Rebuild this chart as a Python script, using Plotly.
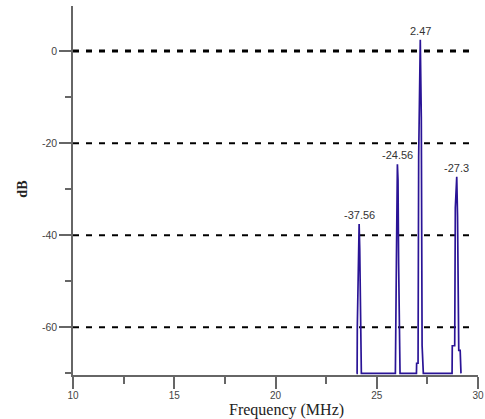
import plotly.graph_objects as go

# Spectrum samples (frequency in MHz, level in dB)
freq_mhz = [24.00, 24.03, 24.04, 24.09, 24.13, 24.16, 24.19, 24.22, 24.24,
            25.92, 25.93, 25.97, 26.02, 26.05, 26.08, 26.11, 26.15,
            26.96, 26.97, 27.04, 27.07, 27.15, 27.20, 27.24, 27.30,
            28.72, 28.73, 28.85, 28.88, 28.95, 28.99, 29.05, 29.12, 29.16]
level_db = [-70, -70, -60, -46, -37.56, -43, -54, -60, -70,
            -70, -57, -46, -24.56, -28, -46, -57, -70,
            -70, -67.8, -67.8, -23, 2.47, -14.3, -64, -70,
            -70, -64, -64, -34, -27.3, -36, -65, -65, -70]

# Peak labels
peak_freq = [24.13, 26.02, 27.15, 28.95]
peak_db = [-37.56, -24.56, 2.47, -27.3]
peak_text = ["-37.56", "-24.56", "2.47", "-27.3"]

# Axis ticks
x_ticks = [10, 15, 20, 25, 30]
y_ticks = [0, -20, -40, -60]

fig = go.Figure()
fig.add_trace(go.Scatter(x=freq_mhz, y=level_db, mode="lines",
                         line=dict(color="#2a1496", width=1.7),
                         showlegend=False, hoverinfo="skip"))

shapes = []
for yv in y_ticks:
    shapes.append(dict(type="line", xref="paper", yref="y", x0=0, x1=0.98,
                       y0=yv, y1=yv, layer="below",
                       line=dict(color="black", width=3 if yv == 0 else 2,
                                 dash="6px,7px")))

annotations = []
for f, d, t in zip(peak_freq, peak_db, peak_text):
    annotations.append(dict(x=f, y=d, text=t, showarrow=False, xanchor="center",
                            yanchor="bottom", yshift=1,
                            font=dict(family="Liberation Sans, Arial", size=11, color="#333")))
annotations.append(dict(x=-0.1235, y=0.505, xref="paper", yref="paper", text="<b>dB</b>",
                        textangle=-90, showarrow=False, xanchor="center", yanchor="middle",
                        font=dict(family="Liberation Serif, Times New Roman", size=14, color="#222")))
annotations.append(dict(x=0.526, y=-0.0935, xref="paper", yref="paper", text="Frequency (MHz)",
                        showarrow=False, xanchor="center", yanchor="middle",
                        font=dict(family="Liberation Serif, Times New Roman", size=16, color="#222")))

x_font = dict(family="Liberation Sans, Arial", size=10, color="#444")
y_font = dict(family="Liberation Sans, Arial", size=10.5, color="#444")
fig.update_layout(
    width=485, height=419,
    margin=dict(l=73, r=7, t=6, b=44, autoexpand=False),
    paper_bgcolor="white", plot_bgcolor="white",
    shapes=shapes, annotations=annotations,
    xaxis=dict(range=[10, 30], tickvals=x_ticks, ticktext=[str(v) for v in x_ticks],
               showgrid=False, zeroline=False, showline=True, linecolor="#666", linewidth=1.5,
               ticks="outside", ticklen=12, tickwidth=1.5, tickcolor="#666",
               ticklabelstandoff=-2,
               minor=dict(ticks="outside", ticklen=7, tickwidth=1.5, tickcolor="#666",
                          tick0=10, dtick=2.5),
               tickfont=x_font, fixedrange=True, automargin=False),
    yaxis=dict(range=[-70.35, 9.8], tickvals=y_ticks, ticktext=[str(v) for v in y_ticks],
               showgrid=False, zeroline=False, showline=True, linecolor="#666", linewidth=1.5,
               ticks="outside", ticklen=12, tickwidth=1.5, tickcolor="#666",
               minor=dict(ticks="outside", ticklen=6, tickwidth=1.5, tickcolor="#666",
                          tick0=-70, dtick=10),
               tickfont=y_font, fixedrange=True, automargin=False),
)

fig.write_html("out.html", config={"displayModeBar": False},
               post_script="document.body.style.margin='0px';")
